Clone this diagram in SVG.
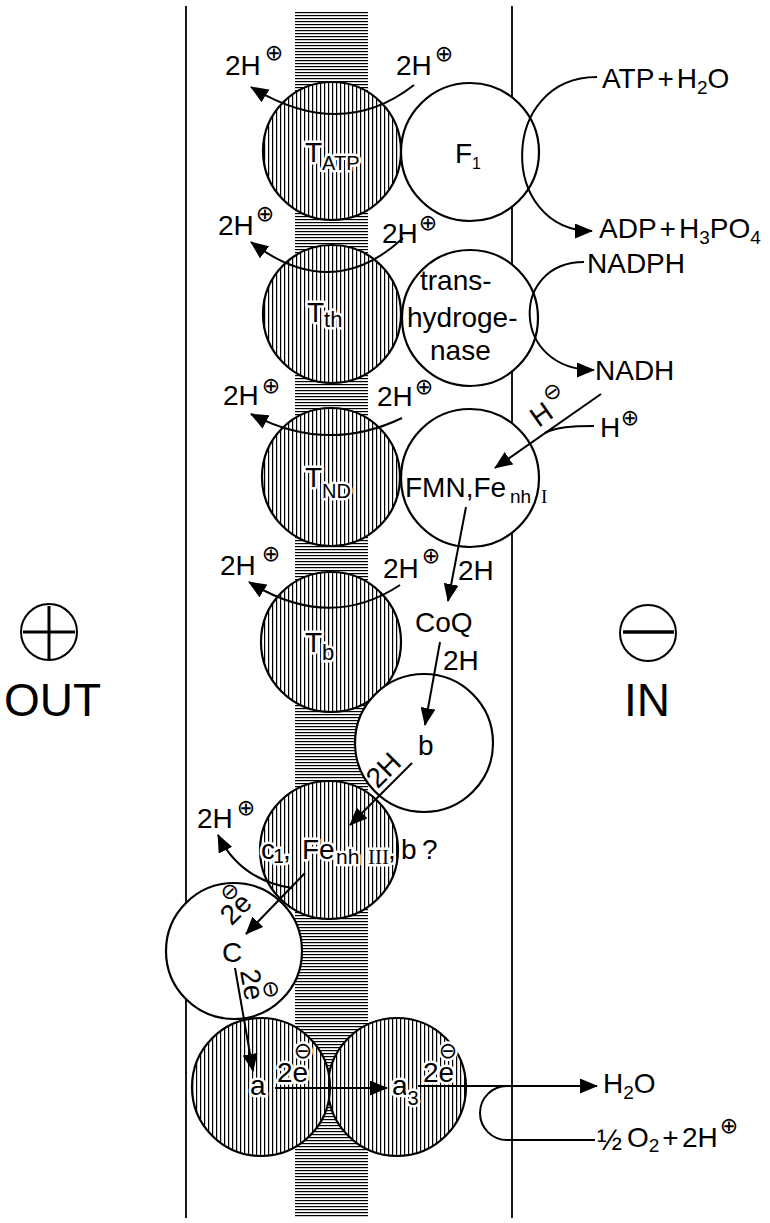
<svg xmlns="http://www.w3.org/2000/svg" width="770" height="1223" viewBox="0 0 770 1223">
<defs>
<pattern id="hh" width="8" height="3" patternUnits="userSpaceOnUse"><rect width="8" height="3" fill="#fff"/><rect width="8" height="1.2" fill="#000"/></pattern>
<pattern id="vh" width="4" height="8" patternUnits="userSpaceOnUse"><rect width="4" height="8" fill="#fff"/><rect width="1.2" height="8" fill="#000"/></pattern>
<marker id="ah" viewBox="0 0 18 15" refX="17" refY="7.5" markerWidth="18" markerHeight="15" markerUnits="userSpaceOnUse" orient="auto"><path d="M0,0 L18,7.5 L0,15 z" fill="#000"/></marker>
</defs>
<style>
.m{stroke:#000;stroke-width:1.8;fill:none}
.hc{fill:url(#vh);stroke:#000;stroke-width:2.2}
.oc{fill:#fff;stroke:#000;stroke-width:2.2}
.c{fill:none;stroke:#000;stroke-width:2}
.a{marker-end:url(#ah)}
text{font-family:"Liberation Sans",Arial,sans-serif;font-size:28px;fill:#000}
.s{font-family:"DejaVu Sans",sans-serif;font-size:22px;text-anchor:middle}
.sb{font-size:19px}
.rm{font-family:"Liberation Serif",serif}
.h{paint-order:stroke;stroke:#fff;stroke-width:5px;stroke-linejoin:round}
.big{font-size:46px}
</style>
<rect width="770" height="1223" fill="#fff"/>
<g id="membrane">
<rect x="295" y="12" width="73" height="1206" fill="url(#hh)"/>
<line class="m" x1="186" y1="6" x2="186" y2="1218"/>
<line class="m" x1="512" y1="6" x2="512" y2="1218"/>
</g>
<g id="out-side">
<circle cx="49" cy="632" r="28" fill="none" stroke="#000" stroke-width="2"/>
<line x1="23" y1="632" x2="75" y2="632" stroke="#000" stroke-width="3"/>
<line x1="49" y1="606" x2="49" y2="659" stroke="#000" stroke-width="3"/>
<text class="big" x="4" y="716">OUT</text>
</g>
<g id="in-side">
<circle cx="648" cy="633" r="28" fill="none" stroke="#000" stroke-width="2"/>
<line x1="623" y1="632" x2="674" y2="632" stroke="#000" stroke-width="3.5"/>
<text class="big" x="624" y="716">IN</text>
</g>
<g id="T_ATP">
<circle class="hc" cx="332" cy="151" r="69"/>
<text class="h" x="305" y="162" font-size="30">T<tspan font-size="20" dy="8">ATP</tspan></text>
</g>
<g id="F1">
<circle class="oc" cx="470" cy="152" r="69"/>
<text x="455" y="163" font-size="24">F<tspan font-size="16" dy="6">1</tspan></text>
</g>
<g id="T_th">
<circle class="hc" cx="332" cy="314" r="69"/>
<text class="h" x="307" y="322" font-size="30">T<tspan font-size="22" dy="5">th</tspan></text>
</g>
<g id="transhydrogenase">
<circle class="oc" cx="470" cy="318" r="68"/>
<text x="420" y="290">trans-</text>
<text x="407" y="327">hydroge-</text>
<text x="430" y="360">nase</text>
</g>
<g id="T_ND">
<circle class="hc" cx="331" cy="477" r="69"/>
<text class="h" x="305" y="487" font-size="30">T<tspan font-size="20" dy="11">ND</tspan></text>
</g>
<g id="FMN">
<circle class="oc" cx="470" cy="478" r="69"/>
<text x="405" y="497">FMN,Fe<tspan class="sb" x="510" y="503">nh</tspan><tspan class="sb rm" x="541" y="503">I</tspan></text>
</g>
<g id="T_b">
<circle class="hc" cx="331" cy="642" r="70"/>
<text class="h" x="305" y="652" font-size="30">T<tspan font-size="22" dy="8">b</tspan></text>
</g>
<g id="CoQ">
<text x="415" y="632">CoQ</text>
</g>
<g id="b">
<circle class="oc" cx="424" cy="743" r="69"/>
<text x="418" y="755" font-size="30">b</text>
</g>
<g id="c1">
<circle class="hc" cx="329" cy="850" r="69"/>
<text class="h" x="261" y="859">c<tspan font-size="21" x="273" y="863">1</tspan><tspan x="283" y="859">,</tspan><tspan x="302">Fe</tspan><tspan font-size="21" x="336" y="864">nh</tspan><tspan font-size="21" class="rm" x="368" y="864">III</tspan><tspan x="388" y="859">,</tspan><tspan x="401">b</tspan><tspan x="422">?</tspan></text>
</g>
<g id="C">
<circle class="oc" cx="234" cy="951" r="68"/>
<text x="222" y="962" font-size="32">C</text>
</g>
<g id="a3">
<circle class="hc" cx="397" cy="1087" r="69"/>
<text class="h" x="392" y="1095" font-size="32">a<tspan font-size="20" dy="10">3</tspan></text>
<text class="h" x="423" y="1082">2e<tspan class="s" x="448" y="1058">⊖</tspan></text>
</g>
<g id="a">
<circle class="hc" cx="261" cy="1087" r="69"/>
<text class="h" x="250" y="1095" font-size="32">a</text>
<text class="h" x="277" y="1082">2e<tspan class="s" x="303" y="1058">⊖</tspan></text>
</g>
<g id="connectors">
<path class="c a" d="M597 77 C498 77 498 231 592 231"/>
<path class="c a" d="M584 262 C510 262 510 370 594 370"/>
<path class="c a" d="M601 394 L495 468"/>
<path class="c" d="M594 426 C572 426 556 427 545 433"/>
<path class="c a" d="M466 507 L448 601"/>
<path class="c a" d="M440 642 L425 725"/>
<path class="c a" d="M412 763 L350 825"/>
<path class="c a" d="M305 873 L246 934"/>
<path class="c a" d="M235 968 L253 1071"/>
<path class="c a" d="M275 1088 L387 1088"/>
<path class="c a" d="M418 1086 L597 1086"/>
<path class="c" d="M507 1086 A27 27 0 0 0 507 1140 L595 1140"/>
<path class="c a" d="M414 85 Q341 142 251 87"/>
<path class="c a" d="M403 238 Q332 304 251 242"/>
<path class="c a" d="M402 418 Q327 454 251 414"/>
<path class="c a" d="M400 585 Q329 632 249 582"/>
<path class="c a" d="M292 888 Q240 880 218 835"/>
</g>
<g id="labels">
<text x="602" y="88">ATP<tspan dx="3">+</tspan><tspan dx="3">H</tspan><tspan class="sb" dy="6">2</tspan><tspan dy="-6">O</tspan></text>
<text x="599" y="238">ADP<tspan dx="3">+</tspan><tspan dx="3">H</tspan><tspan class="sb" dy="6">3</tspan><tspan dy="-6">PO</tspan><tspan class="sb" dy="6">4</tspan></text>
<text x="587" y="273">NADPH</text>
<text x="595" y="380">NADH</text>
<text x="600" y="437">H<tspan class="s" x="630" y="425">⊕</tspan></text>
<text transform="translate(538.5,428) rotate(-35)">H<tspan class="s" x="32" y="-14.5">⊖</tspan></text>
<text x="458" y="580">2H</text>
<text x="443" y="670">2H</text>
<text transform="translate(377.6,789.6) rotate(-45)">2H</text>
<text transform="translate(231.6,926.6) rotate(-45)">2e<tspan class="s" x="23.4" y="-19">⊖</tspan></text>
<text transform="translate(240,971) rotate(80)">2e<tspan class="s" x="23.4" y="-20">⊖</tspan></text>
<text x="225" y="75">2H<tspan class="s" x="274" y="60">⊕</tspan></text>
<text x="396" y="75">2H<tspan class="s" x="444" y="61">⊕</tspan></text>
<text x="218" y="235">2H<tspan class="s" x="265" y="221">⊕</tspan></text>
<text x="382" y="243">2H<tspan class="s" x="428" y="230">⊕</tspan></text>
<text x="223" y="405">2H<tspan class="s" x="271" y="393">⊕</tspan></text>
<text x="377" y="406">2H<tspan class="s" x="424" y="394">⊕</tspan></text>
<text x="220" y="575">2H<tspan class="s" x="271" y="561">⊕</tspan></text>
<text x="383" y="578">2H<tspan class="s" x="431" y="563">⊕</tspan></text>
<text x="197" y="828">2H<tspan class="s" x="246" y="815">⊕</tspan></text>
<text x="603" y="1093">H<tspan class="sb" dy="6">2</tspan><tspan dy="-6">O</tspan></text>
<text x="597" y="1150"><tspan font-size="30">½</tspan><tspan x="627" y="1147">O</tspan><tspan class="sb" dy="5">2</tspan><tspan dy="-5" dx="3">+</tspan><tspan x="682">2H</tspan><tspan class="s" x="729" y="1133">⊕</tspan></text>
</g>
</svg>
